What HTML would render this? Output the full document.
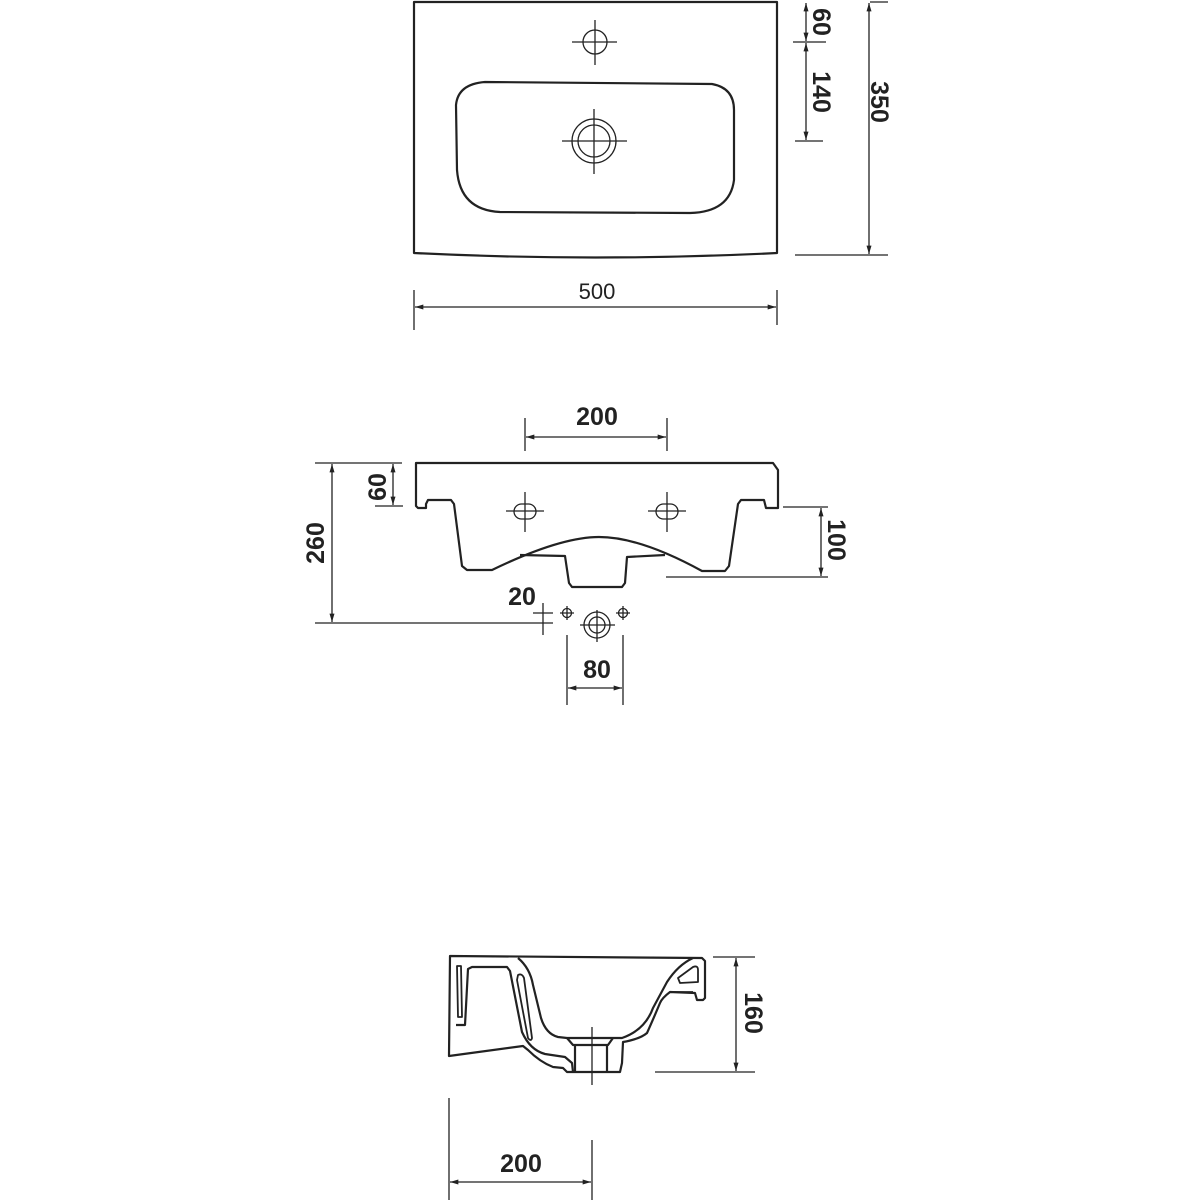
<!DOCTYPE html>
<html><head><meta charset="utf-8"><style>
html,body{margin:0;padding:0;background:#fff}
svg{display:block}
text{font-family:"Liberation Sans","DejaVu Sans",sans-serif;fill:#222}
.b{font-size:25px;font-weight:bold}
</style></head><body>
<svg width="1200" height="1200" viewBox="0 0 1200 1200" xmlns="http://www.w3.org/2000/svg">
<defs>
<marker id="a" viewBox="0 0 10 6" refX="10" refY="3" markerWidth="9" markerHeight="5" orient="auto-start-reverse" markerUnits="userSpaceOnUse"><path d="M0,0 L10,3 L0,6z" fill="#222"/></marker>
</defs>
<g fill="none" stroke="#222" stroke-width="2.2" stroke-linejoin="round">
<path d="M414,2 L777,2 L777,253 Q596,262 414,253 Z"/>
<path d="M485,82 L712,84 Q734,88 734,110 L734,180 Q730,212 690,213 L500,212 Q460,210 457,170 L456,105 Q458,84 485,82 Z"/>
<path d="M416,467 L416,463 L773,463 L778,470 L778,508 L766,508 L764,500 L741,500 L738,504 L729,566 L725,571 L702,571 Q640,537 599,537 Q560,537 492,570 L467,570 L462,566 L454,504 L451,500 L428,500 L426,504 L426,508 L418,508 L416,506 Z"/>
<path d="M520,555 L565,556 L569,583 L572,587 L622,587 L625,583 L627,557 L665,555"/>
<path d="M450,956 L702,958 L705,961 L705,998 L703,1000 L697,1000 L695,993 L670,992 Q662,998 660,1003 Q652,1022 647,1033 Q640,1039 623,1042 L622,1063 L620,1072 L567,1072 L563,1068 L553,1067 Q540,1062 528,1050 L523,1046 L449,1056 Z"/>
<path d="M456,1025 L465,1025 L468,969 L472,967 L507,967 L510,971 L522,1032 Q530,1050 545,1054 L565,1057 L572,1063 L573,1072"/>
<path d="M518,958 Q530,968 533,985 L541,1018 Q546,1034 558,1037 L567,1038 L622,1038 Q645,1030 653,1008 L667,982 Q678,965 693,958"/>
<path d="M567,1038 L573,1045 L608,1045 L613,1038 M575,1045 L575,1072 M607,1045 L607,1072"/>
<path d="M457,966 L461,966 L462,1017 L458,1017 Z" stroke-width="1.8"/>
<path d="M518,975 Q522,973 524,978 L532,1038 Q531,1042 528,1038 L517,980 Z" stroke-width="1.8"/>
<path d="M678,978 L693,967 Q698,965 698,970 L698,982 L680,983 Z" stroke-width="1.8"/>
<path d="M670,992 L693,992" stroke-width="1.8"/>
</g>
<g fill="none" stroke="#222" stroke-width="1.3">
<circle cx="595" cy="42" r="12"/>
<path d="M572,42H617M595,20V65"/>
<circle cx="594" cy="141" r="22"/><circle cx="594" cy="141" r="16"/>
<path d="M562,141H627M594,109V174"/>
<path d="M793,42H826M795,141H823M795,255H888M870,2H888M414,290V330M777,290V325"/>
<path d="M806,3V41" marker-start="url(#a)" marker-end="url(#a)"/>
<path d="M806,43V140" marker-start="url(#a)" marker-end="url(#a)"/>
<path d="M869,3V254" marker-start="url(#a)" marker-end="url(#a)"/>
<path d="M415,307H776" marker-start="url(#a)" marker-end="url(#a)"/>
<rect x="514" y="504" width="22" height="15" rx="7.5"/>
<rect x="656" y="504" width="22" height="15" rx="7.5"/>
<path d="M506,511H544M525,492V532M648,511H686M667,492V532"/>
<path d="M525,418V451M667,418V451M315,463H402M315,623H553M375,506H403M783,507H828M666,577H828"/>
<path d="M526,437H666" marker-start="url(#a)" marker-end="url(#a)"/>
<path d="M332,464V622" marker-start="url(#a)" marker-end="url(#a)"/>
<path d="M393,464V505" marker-start="url(#a)" marker-end="url(#a)"/>
<path d="M821,508V576" marker-start="url(#a)" marker-end="url(#a)"/>
<circle cx="567" cy="613" r="4.5"/><path d="M560,613H574M567,606V620"/>
<circle cx="623" cy="613" r="4.5"/><path d="M616,613H630M623,606V620"/>
<circle cx="597" cy="625" r="13"/><circle cx="597" cy="625" r="8"/>
<path d="M580,625H615M597,610V642"/>
<path d="M533,613H553M543,603V635"/>
<path d="M567,635V705M623,635V705"/>
<path d="M568,688H622" marker-start="url(#a)" marker-end="url(#a)"/>
<path d="M713,957H755M655,1072H755M592,1027V1085M449,1098V1200M592,1140V1200"/>
<path d="M736,958V1071" marker-start="url(#a)" marker-end="url(#a)"/>
<path d="M450,1182H591" marker-start="url(#a)" marker-end="url(#a)"/>
</g>
<text x="597" y="299" font-size="22" text-anchor="middle">500</text>
<text class="b" transform="translate(813,22) rotate(90)" text-anchor="middle">60</text>
<text class="b" transform="translate(813,92) rotate(90)" text-anchor="middle">140</text>
<text class="b" transform="translate(871,102) rotate(90)" text-anchor="middle">350</text>
<text class="b" x="597" y="425" text-anchor="middle">200</text>
<text class="b" transform="translate(386,487) rotate(-90)" text-anchor="middle">60</text>
<text class="b" transform="translate(324,543) rotate(-90)" text-anchor="middle">260</text>
<text class="b" transform="translate(828,540) rotate(90)" text-anchor="middle">100</text>
<text class="b" x="522" y="605" text-anchor="middle">20</text>
<text class="b" x="597" y="678" text-anchor="middle">80</text>
<text class="b" transform="translate(745,1013) rotate(90)" text-anchor="middle">160</text>
<text class="b" x="521" y="1172" text-anchor="middle">200</text>
</svg>
</body></html>
